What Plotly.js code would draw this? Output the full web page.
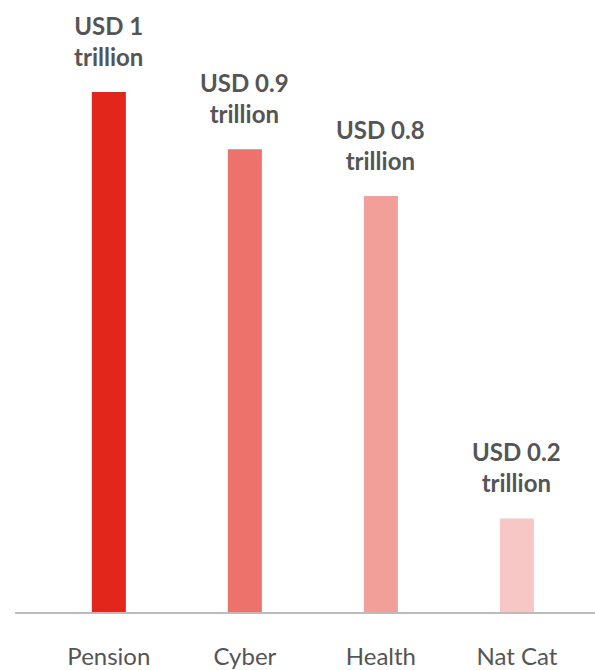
<!DOCTYPE html>
<html><head><meta charset="utf-8">
<script src="https://cdn.plot.ly/plotly-3.0.1.min.js"></script>
<style>html,body{margin:0;padding:0;background:#fff}#chart{width:595px;height:670px}</style>
</head><body><div id="chart"></div>
<script>
const categories = ["Pension", "Cyber", "Health", "Nat Cat"];
const values = [1.0, 0.89, 0.8, 0.18];
const labels = ["USD 1<br>trillion", "USD 0.9<br>trillion", "USD 0.8<br>trillion", "USD 0.2<br>trillion"];
const colors = ["#e2261c", "#ec726b", "#f29f9a", "#f6c7c5"];

const trace = {
  type: "bar",
  x: categories,
  y: values,
  marker: {color: colors},
  width: 0.25,
  hoverinfo: "skip"
};

const annotations = categories.map((c, i) => ({
  x: c, y: values[i], xref: "x", yref: "y",
  text: labels[i], showarrow: false,
  yanchor: "bottom", yshift: 19,
  font: {family: "Lato, sans-serif", size: 24, color: "#555555", weight: "bold"}
}));

const layout = {
  width: 595, height: 670,
  margin: {l: 15, r: 0, t: 0, b: 58},
  paper_bgcolor: "#fff", plot_bgcolor: "#fff",
  showlegend: false,
  xaxis: {
    type: "category",
    range: [-0.69, 3.574],
    showline: true, linecolor: "#bbbbbb", linewidth: 2,
    showgrid: false, zeroline: false,
    ticks: "", ticklabelstandoff: 22,
    tickfont: {family: "Lato, sans-serif", size: 24, color: "#555555"},
    fixedrange: true
  },
  yaxis: {
    range: [0, 1.177],
    visible: false, showgrid: false, zeroline: false, fixedrange: true
  },
  annotations: annotations
};

Plotly.newPlot("chart", [trace], layout, {displayModeBar: false, staticPlot: true});
</script></body></html>
